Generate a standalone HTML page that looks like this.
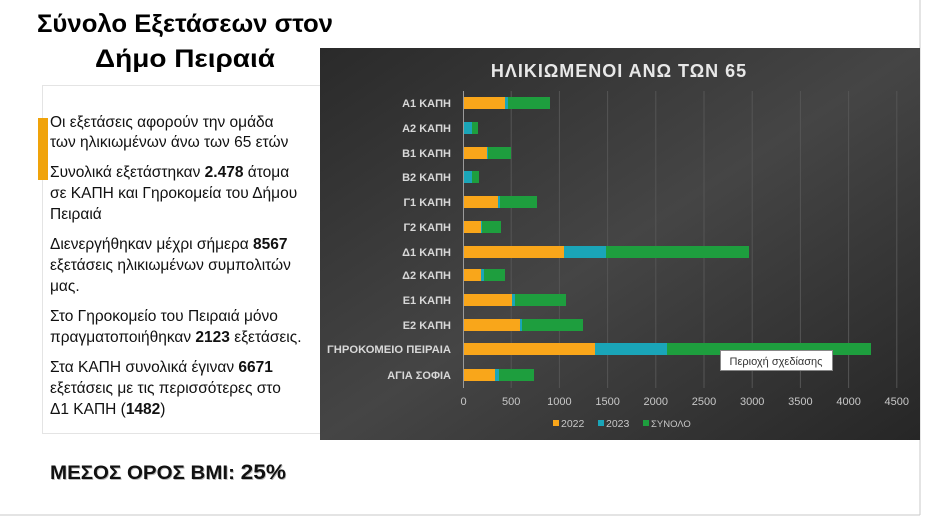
<!DOCTYPE html>
<html><head><meta charset="utf-8"><style>
body{margin:0;background:#fff;}
svg{display:block;font-family:"Liberation Sans","DejaVu Sans",sans-serif;}
</style></head><body>
<svg width="936" height="524" viewBox="0 0 936 524" xmlns="http://www.w3.org/2000/svg">
<defs>
<linearGradient id="bg" x1="0" y1="0" x2="1" y2="1">
<stop offset="0" stop-color="#2a2a2a"/><stop offset="0.5" stop-color="#454545"/><stop offset="1" stop-color="#262626"/>
</linearGradient>
</defs>
<line x1="920" y1="0" x2="920" y2="515" stroke="#c8c8c8"/>
<line x1="0" y1="515" x2="920" y2="515" stroke="#c8c8c8"/>
<text x="37" y="32" font-size="25" font-weight="bold" textLength="296" lengthAdjust="spacingAndGlyphs" fill="#000">Σύνολο Εξετάσεων στον</text>
<text x="95" y="67" font-size="25" font-weight="bold" textLength="180" lengthAdjust="spacingAndGlyphs" fill="#000">Δήμο Πειραιά</text>
<rect x="42.5" y="85.5" width="280" height="348" fill="#fff" stroke="#e4e4e4"/>
<rect x="38" y="118" width="10" height="62" fill="#f0a30a"/>
<g font-size="15.5" fill="#111">
<text x="50" y="127">Οι εξετάσεις αφορούν την ομάδα</text>
<text x="50" y="147">των ηλικιωμένων άνω των 65 ετών</text>
<text x="50" y="177">Συνολικά εξετάστηκαν <tspan font-weight="bold">2.478</tspan> άτομα</text>
<text x="50" y="198">σε ΚΑΠΗ και Γηροκομεία του Δήμου</text>
<text x="50" y="219">Πειραιά</text>
<text x="50" y="249">Διενεργήθηκαν μέχρι σήμερα <tspan font-weight="bold">8567</tspan></text>
<text x="50" y="270">εξετάσεις ηλικιωμένων συμπολιτών</text>
<text x="50" y="291">μας.</text>
<text x="50" y="321">Στο Γηροκομείο του Πειραιά μόνο</text>
<text x="50" y="342">πραγματοποιήθηκαν <tspan font-weight="bold">2123</tspan> εξετάσεις.</text>
<text x="50" y="372">Στα ΚΑΠΗ συνολικά έγιναν <tspan font-weight="bold">6671</tspan></text>
<text x="50" y="393">εξετάσεις με τις περισσότερες στο</text>
<text x="50" y="414">Δ1 ΚΑΠΗ (<tspan font-weight="bold">1482</tspan>)</text>
</g>
<text x="50.8" y="479.8" font-size="19" font-weight="bold" fill="#bbb" textLength="236" lengthAdjust="spacingAndGlyphs">ΜΕΣΟΣ ΟΡΟΣ BMI: <tspan font-size="21">25%</tspan></text>
<text x="50" y="479" font-size="19" font-weight="bold" fill="#111" textLength="236" lengthAdjust="spacingAndGlyphs">ΜΕΣΟΣ ΟΡΟΣ BMI: <tspan font-size="21">25%</tspan></text>

<rect x="320" y="48" width="600" height="392" fill="url(#bg)"/>
<text x="619" y="77" font-size="18" font-weight="bold" fill="#e8e8e8" text-anchor="middle" letter-spacing="1">ΗΛΙΚΙΩΜΕΝΟΙ ΑΝΩ ΤΩΝ 65</text>
<g stroke="#555" stroke-width="1">
<line x1="511.2" y1="91" x2="511.2" y2="388"/><line x1="559.4" y1="91" x2="559.4" y2="388"/>
<line x1="607.6" y1="91" x2="607.6" y2="388"/><line x1="655.8" y1="91" x2="655.8" y2="388"/>
<line x1="704" y1="91" x2="704" y2="388"/><line x1="752.2" y1="91" x2="752.2" y2="388"/>
<line x1="800.4" y1="91" x2="800.4" y2="388"/><line x1="848.6" y1="91" x2="848.6" y2="388"/>
<line x1="896.8" y1="91" x2="896.8" y2="388"/>
</g>
<line x1="463.5" y1="91" x2="463.5" y2="388" stroke="#9a9a9a"/>
<g font-size="11" font-weight="bold" fill="#d8d8d8" text-anchor="end">
<text x="451" y="107">Α1 ΚΑΠΗ</text><text x="451" y="132">Α2 ΚΑΠΗ</text>
<text x="451" y="157">Β1 ΚΑΠΗ</text><text x="451" y="181">Β2 ΚΑΠΗ</text>
<text x="451" y="206">Γ1 ΚΑΠΗ</text><text x="451" y="231">Γ2 ΚΑΠΗ</text>
<text x="451" y="256">Δ1 ΚΑΠΗ</text><text x="451" y="279">Δ2 ΚΑΠΗ</text>
<text x="451" y="304">Ε1 ΚΑΠΗ</text><text x="451" y="329">Ε2 ΚΑΠΗ</text>
<text x="451" y="353" textLength="124" lengthAdjust="spacingAndGlyphs">ΓΗΡΟΚΟΜΕΙΟ ΠΕΙΡΑΙΑ</text><text x="451" y="379">ΑΓΙΑ ΣΟΦΙΑ</text>
</g>
<g>
<rect x="464" y="97" width="41" height="12" fill="#f9a61a"/><rect x="505" y="97" width="3" height="12" fill="#1aa5b8"/><rect x="508" y="97" width="42" height="12" fill="#1e9e3e"/>
<rect x="464" y="122" width="8" height="12" fill="#1aa5b8"/><rect x="472" y="122" width="6" height="12" fill="#1e9e3e"/>
<rect x="464" y="147" width="23" height="12" fill="#f9a61a"/><rect x="487" y="147" width="1" height="12" fill="#1aa5b8"/><rect x="488" y="147" width="23" height="12" fill="#1e9e3e"/>
<rect x="464" y="171" width="8" height="12" fill="#1aa5b8"/><rect x="472" y="171" width="7" height="12" fill="#1e9e3e"/>
<rect x="464" y="196" width="34" height="12" fill="#f9a61a"/><rect x="498" y="196" width="2" height="12" fill="#1aa5b8"/><rect x="500" y="196" width="37" height="12" fill="#1e9e3e"/>
<rect x="464" y="221" width="17" height="12" fill="#f9a61a"/><rect x="481" y="221" width="1" height="12" fill="#1aa5b8"/><rect x="482" y="221" width="19" height="12" fill="#1e9e3e"/>
<rect x="464" y="246" width="100" height="12" fill="#f9a61a"/><rect x="564" y="246" width="42" height="12" fill="#1aa5b8"/><rect x="606" y="246" width="143" height="12" fill="#1e9e3e"/>
<rect x="464" y="269" width="17" height="12" fill="#f9a61a"/><rect x="481" y="269" width="3" height="12" fill="#1aa5b8"/><rect x="484" y="269" width="21" height="12" fill="#1e9e3e"/>
<rect x="464" y="294" width="48" height="12" fill="#f9a61a"/><rect x="512" y="294" width="3" height="12" fill="#1aa5b8"/><rect x="515" y="294" width="51" height="12" fill="#1e9e3e"/>
<rect x="464" y="319" width="56" height="12" fill="#f9a61a"/><rect x="520" y="319" width="2" height="12" fill="#1aa5b8"/><rect x="522" y="319" width="61" height="12" fill="#1e9e3e"/>
<rect x="464" y="343" width="131" height="12" fill="#f9a61a"/><rect x="595" y="343" width="72" height="12" fill="#1aa5b8"/><rect x="667" y="343" width="204" height="12" fill="#1e9e3e"/>
<rect x="464" y="369" width="31" height="12" fill="#f9a61a"/><rect x="495" y="369" width="4" height="12" fill="#1aa5b8"/><rect x="499" y="369" width="35" height="12" fill="#1e9e3e"/>
</g>
<rect x="720.5" y="350.5" width="112" height="20" fill="#fff" stroke="#888"/>
<text x="776" y="365" font-size="11" fill="#333" text-anchor="middle">Περιοχή σχεδίασης</text>
<g font-size="11" fill="#c8c8c8" text-anchor="middle">
<text x="463.5" y="405">0</text><text x="511.2" y="405">500</text><text x="559.4" y="405">1000</text>
<text x="607.6" y="405">1500</text><text x="655.8" y="405">2000</text><text x="704" y="405">2500</text>
<text x="752.2" y="405">3000</text><text x="800.4" y="405">3500</text><text x="848.6" y="405">4000</text>
<text x="896.8" y="405">4500</text>
</g>
<rect x="553" y="420" width="6" height="6" fill="#f9a61a"/><text x="561" y="427" font-size="10.5" fill="#c8c8c8">2022</text>
<rect x="598" y="420" width="6" height="6" fill="#1aa5b8"/><text x="606" y="427" font-size="10.5" fill="#c8c8c8">2023</text>
<rect x="643" y="420" width="6" height="6" fill="#1e9e3e"/><text x="651" y="427" font-size="9.5" fill="#c8c8c8">ΣΥΝΟΛΟ</text>
</svg>
</body></html>
